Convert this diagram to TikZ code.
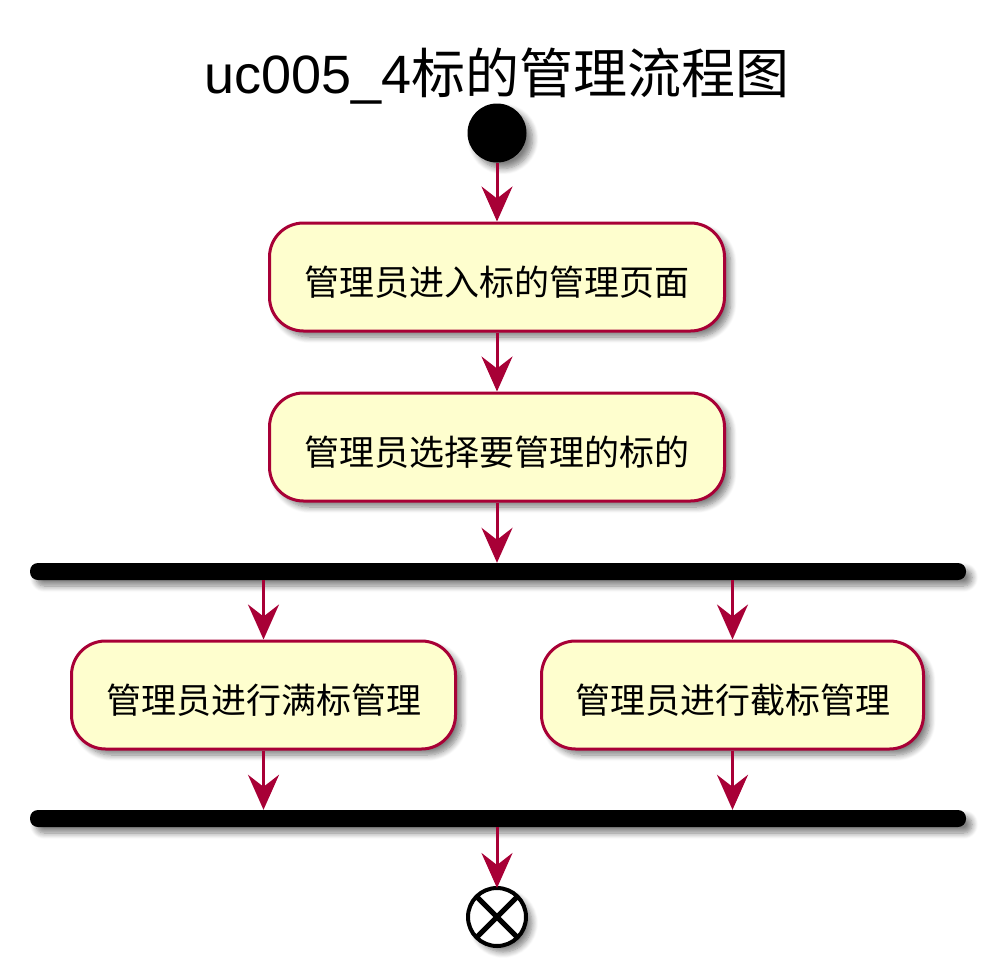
\documentclass[tikz,border=0pt]{standalone}
\usepackage{fontspec}
\setmainfont{Liberation Sans}
\newfontfamily\cjk{Noto Sans CJK SC}
\usetikzlibrary{arrows.meta,shadows.blur}
\definecolor{umlred}{HTML}{A80036}
\definecolor{umlfill}{HTML}{FEFECE}
\tikzset{
  softshadow/.style={blur shadow={shadow xshift=6pt, shadow yshift=-6pt,
      shadow blur radius=6pt, shadow blur steps=8, shadow opacity=50}},
  act/.style={draw=umlred, fill=umlfill, line width=3pt, rounded corners=34pt,
      minimum height=108pt, inner sep=0pt, text=black,
      text height=36pt, text depth=0pt,
      font=\cjk\fontsize{35}{40}\selectfont, softshadow},
  flow/.style={draw=umlred, line width=3pt,
      -{Stealth[length=35pt, width=31pt, inset=12pt]}},
  syncbar/.style={fill=black, rounded corners=8pt, minimum width=936pt,
      minimum height=17pt, inner sep=0pt, softshadow},
}
\begin{document}
\begin{tikzpicture}[x=1pt, y=-1pt]
  \useasboundingbox (0,0) rectangle (996,977);
  % title
  \node[anchor=base, inner sep=0pt, font=\fontsize{54}{60}\selectfont] (title) at (497,93)
    {uc005\_4{\cjk 标的管理流程图}};
  % start
  \node[circle, fill=black, minimum size=59pt, inner sep=0pt, softshadow] (start) at (497,133) {};
  % actions
  \node[act, minimum width=455pt] (enter) at (497,277) {管理员进入标的管理页面};
  \node[act, minimum width=455pt] (select) at (497,447) {管理员选择要管理的标的};
  % fork
  \node[syncbar] (fork) at (498,571.5) {};
  \node[act, minimum width=384pt] (full) at (263.5,695) {管理员进行满标管理};
  \node[act, minimum width=382pt] (cut) at (732.5,695) {管理员进行截标管理};
  % join
  \node[syncbar] (join) at (498,818.5) {};
  % end
  \node[circle, draw=black, line width=4pt, fill=white, minimum size=58pt,
        inner sep=0pt, outer sep=0pt, softshadow] (stop) at (497,917) {};
  \draw[line width=5pt] (stop.north west) -- (stop.south east);
  \draw[line width=5pt] (stop.north east) -- (stop.south west);
  % flows
  \draw[flow] (start) -- (enter);
  \draw[flow] (enter) -- (select);
  \draw[flow] (select.south) -- (select.south |- fork.north);
  \draw[flow] (full.north |- fork.south) -- (full.north);
  \draw[flow] (cut.north |- fork.south) -- (cut.north);
  \draw[flow] (full.south) -- (full.south |- join.north);
  \draw[flow] (cut.south) -- (cut.south |- join.north);
  \draw[flow] (stop.north |- join.south) -- (stop.north);
\end{tikzpicture}
\end{document}
